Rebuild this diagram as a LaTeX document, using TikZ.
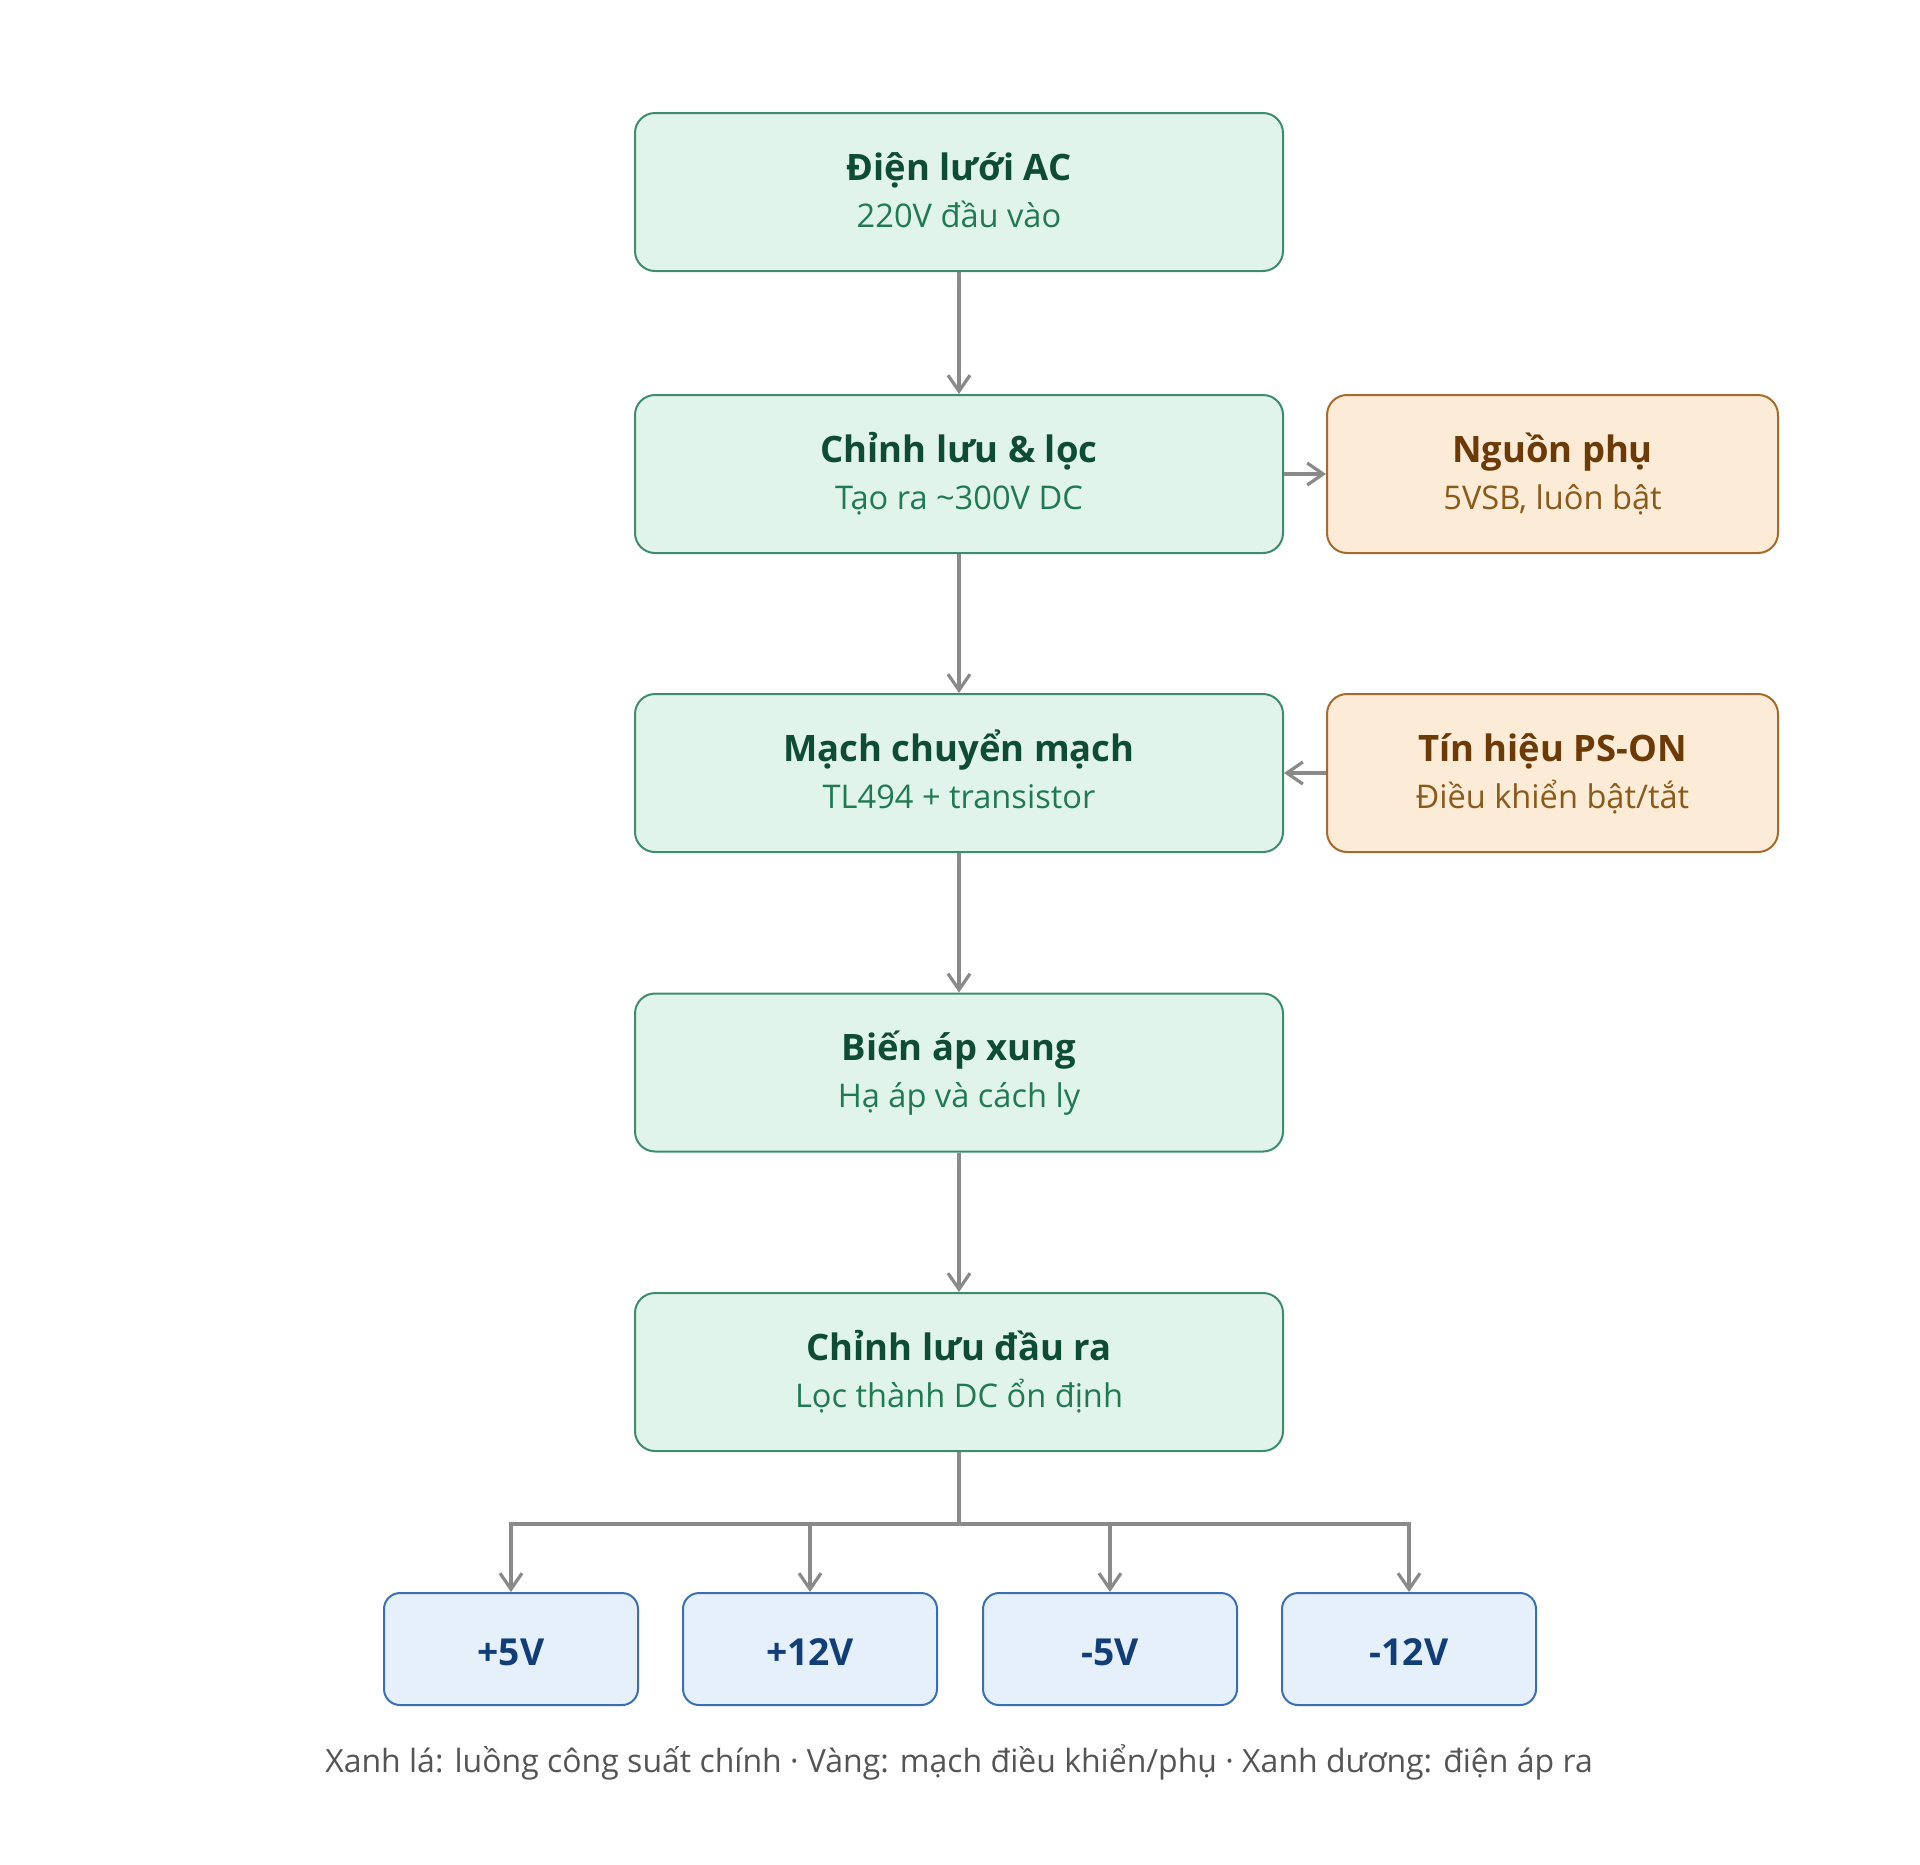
\documentclass[tikz,border=0pt]{standalone}
\usepackage{fontspec}
\setmainfont{Open Sans}
\usetikzlibrary{arrows.meta}
\definecolor{gfill}{HTML}{E1F4EC}
\definecolor{gdraw}{HTML}{3D8C6E}
\definecolor{gtitle}{HTML}{0E4D33}
\definecolor{gsub}{HTML}{1F7A52}
\definecolor{ofill}{HTML}{FCEBD6}
\definecolor{odraw}{HTML}{A66B2A}
\definecolor{otitle}{HTML}{6B3A07}
\definecolor{osub}{HTML}{8B5A1A}
\definecolor{bfill}{HTML}{E6F0FB}
\definecolor{bdraw}{HTML}{3A6FB5}
\definecolor{btext}{HTML}{123E78}
\definecolor{arr}{HTML}{8A8A8A}
\definecolor{foot}{HTML}{555555}
\tikzset{
  gbox/.style={draw=gdraw, fill=gfill, line width=1pt, rounded corners=10pt, minimum width=324pt, minimum height=79pt, inner sep=0pt},
  obox/.style={draw=odraw, fill=ofill, line width=1pt, rounded corners=10pt, minimum width=225.5pt, minimum height=79pt, inner sep=0pt},
  bbox/.style={draw=bdraw, fill=bfill, line width=1pt, rounded corners=8pt, minimum width=127pt, minimum height=56pt, inner sep=0pt},
  ttl/.style={anchor=base, inner sep=0pt, font=\fontsize{18.2}{21}\selectfont\bfseries},
  outl/.style={anchor=base, inner sep=0pt, font=\fontsize{18.6}{21}\selectfont\bfseries},
  sub/.style={anchor=base, inner sep=0pt, font=\fontsize{16.3}{19}\selectfont},
  conn/.style={draw=arr, line width=1.6pt, -{Straight Barb[length=8pt,width=11pt,line width=1.6pt]}},
}
\begin{document}
\begin{tikzpicture}[x=0.5pt,y=-0.5pt]
\useasboundingbox (0,0) rectangle (1920,1864);
% main column
\node[gbox] (a) at (959,192) {};
\node[gbox] (b) at (959,474) {};
\node[gbox] (c) at (959,773) {};
\node[gbox] (d) at (959,1072.5) {};
\node[gbox] (e) at (959,1372) {};
% side boxes
\node[obox] (n) at (1552.5,474) {};
\node[obox] (p) at (1552.5,773) {};
% output boxes
\node[bbox] (o1) at (511,1649) {};
\node[bbox] (o2) at (810,1649) {};
\node[bbox] (o3) at (1110,1649) {};
\node[bbox] (o4) at (1409,1649) {};
% texts
\node[ttl, text=gtitle] (at) at (959,180) {Điện lưới AC};
\node[sub, text=gsub] (as) at (959,227) {220V đầu vào};
\node[ttl, text=gtitle] (bt) at (959,462) {Chỉnh lưu \& lọc};
\node[sub, text=gsub] (bs) at (959,509) {Tạo ra \textasciitilde300V DC};
\node[ttl, text=gtitle] (ct) at (959,761) {Mạch chuyển mạch};
\node[sub, text=gsub] (cs) at (959,808) {TL494 + transistor};
\node[ttl, text=gtitle] (dt) at (959,1060.5) {Biến áp xung};
\node[sub, text=gsub] (ds) at (959,1107.5) {Hạ áp và cách ly};
\node[ttl, text=gtitle] (et) at (959,1360) {Chỉnh lưu đầu ra};
\node[sub, text=gsub] (es) at (959,1407) {Lọc thành DC ổn định};
\node[ttl, text=otitle] (nt) at (1552.5,462) {Nguồn phụ};
\node[sub, text=osub] (ns) at (1552.5,509) {5VSB, luôn bật};
\node[ttl, text=otitle] (pt) at (1552.5,761) {Tín hiệu PS-ON};
\node[sub, text=osub] (ps) at (1552.5,808) {Điều khiển bật/tắt};
\node[outl, text=btext] (o1t) at (511,1665) {+5V};
\node[outl, text=btext] (o2t) at (810,1665) {+12V};
\node[outl, text=btext] (o3t) at (1110,1665) {-5V};
\node[outl, text=btext] (o4t) at (1409,1665) {-12V};
\node[anchor=base, inner sep=0pt, font=\fontsize{16}{19}\selectfont, text=foot] (legend) at (959,1772) {Xanh lá: luồng công suất chính · Vàng: mạch điều khiển/phụ · Xanh dương: điện áp ra};
% connectors
\coordinate (bus) at (959,1524);
\draw[conn] (a) -- (b);
\draw[conn] (b) -- (c);
\draw[conn] (c) -- (d);
\draw[conn] (d) -- (e);
\draw[conn] (b.east) -- (n.west);
\draw[conn] (p.west) -- (c.east);
\draw[conn] (e.south) -- (bus) -| (o1.north);
\draw[conn] (e.south) -- (bus) -| (o2.north);
\draw[conn] (e.south) -- (bus) -| (o3.north);
\draw[conn] (e.south) -- (bus) -| (o4.north);
\end{tikzpicture}
\end{document}
